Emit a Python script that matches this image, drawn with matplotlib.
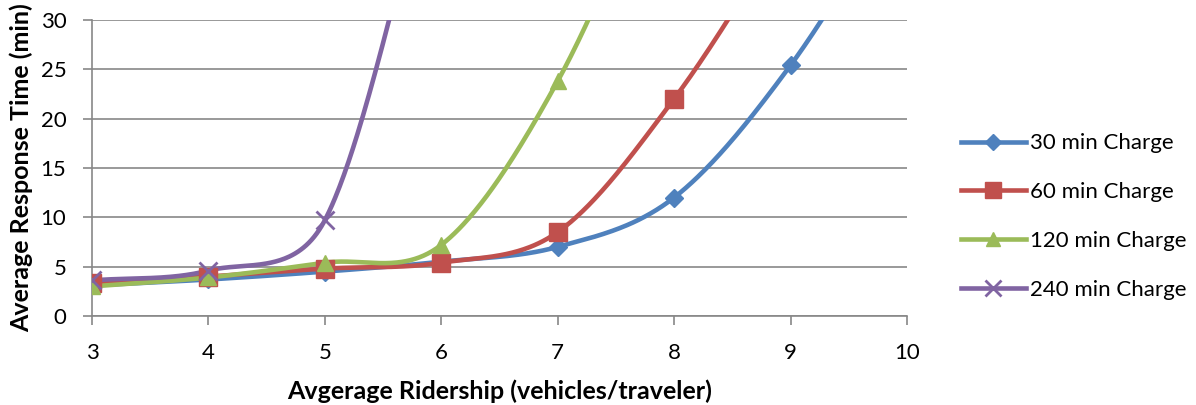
import numpy as np
import matplotlib
matplotlib.use("Agg")
import matplotlib.pyplot as plt
from matplotlib.lines import Line2D

plt.rcParams['font.family'] = ['Lato', 'DejaVu Sans']

# ridership (vehicles/traveler) and response time (min) per charge duration;
# the last value of each series lies above the plotted range
ridership = [3, 4, 5, 6, 7, 8, 9, 10]
resp_30 = [3.1, 3.7, 4.5, 5.5, 7.0, 12.0, 25.4, 44.0]
resp_60 = [3.3, 4.0, 4.8, 5.4, 8.5, 22.0, 40.0]
resp_120 = [3.0, 3.9, 5.4, 7.2, 23.8, 50.0]
resp_240 = [3.6, 4.6, 9.7, 50.0]

labels = ['30 min Charge', '60 min Charge', '120 min Charge', '240 min Charge']
colors = ['#4F81BD', '#C0504D', '#9BBB59', '#8064A2']
markers = ['D', 's', '^', 'x']
msizes = [9, 13, 12, 13]


def smooth(ax, xs, ys, n=80):
    # spreadsheet-style smoothed line: cubic Bezier segments built in display space,
    # control arms of 1/6 of the neighbour chord, capped at half the segment length
    tr = ax.transData
    p = tr.transform(np.column_stack([xs, ys]).astype(float))
    t = np.linspace(0, 1, n)[1:, None]
    out = [p[:1]]
    m = len(p)

    def arm(i, seg_len):
        if i == 0:
            return (p[1] - p[0]) / 3
        if i == m - 1:
            return (p[-1] - p[-2]) / 3
        d = p[i + 1] - p[i - 1]
        L = np.hypot(*d)
        k = min(L / 6, seg_len / 2)
        return d / L * k if L > 0 else d * 0

    for i in range(m - 1):
        p1, p2 = p[i], p[i + 1]
        seg = np.hypot(*(p2 - p1))
        c1 = p1 + arm(i, seg)
        c2 = p2 - arm(i + 1, seg)
        b = ((1 - t) ** 3) * p1 + 3 * ((1 - t) ** 2) * t * c1 + 3 * (1 - t) * t ** 2 * c2 + t ** 3 * p2
        out.append(b)
    c = tr.inverted().transform(np.vstack(out))
    return c[:, 0], c[:, 1]


fig = plt.figure(figsize=(11.96, 4.05), dpi=100)
ax = fig.add_axes([0.0769, 0.2198, 0.6814, 0.7309])
ax.set_xlim(3, 10)
ax.set_ylim(0, 30)

series = [resp_30, resp_60, resp_120, resp_240]
handles = []
for ys, lab, col, mk, ms in zip(series, labels, colors, markers, msizes):
    xs = ridership[:len(ys)]
    sx, sy = smooth(ax, xs, ys)
    ax.plot(sx, sy, color=col, lw=3.3, solid_capstyle='round', zorder=3)
    vis = [(x, y) for x, y in zip(xs, ys) if y <= 30]
    ax.plot([v[0] for v in vis], [v[1] for v in vis], ls='none', marker=mk, ms=ms,
            color=col, mec=col, mew=2 if mk == 'x' else 1, zorder=4)
    handles.append(Line2D([], [], color=col, lw=3.3, marker=mk, ms=ms * 0.85,
                          mec=col, mew=2 if mk == 'x' else 1))

ax.set_xticks(range(3, 11))
ax.set_yticks(range(0, 31, 5))
ax.yaxis.grid(True, color='#878787', lw=1.2)
ax.set_axisbelow(True)
for s in ['top', 'right']:
    ax.spines[s].set_visible(False)
for s in ['left', 'bottom']:
    ax.spines[s].set_color('#878787')
    ax.spines[s].set_linewidth(1.2)
ax.tick_params(axis='both', colors='#878787', length=6.5, width=1.2, labelsize=16,
               labelcolor='black')
ax.tick_params(axis='x', pad=13)
ax.tick_params(axis='y', pad=12)

ax.set_xlabel('Avgerage Ridership (vehicles/traveler)', fontsize=18, fontweight='bold', labelpad=12)
ax.set_ylabel('Average Response Time (min)', fontsize=18, fontweight='bold', labelpad=5)

fig.legend(handles, labels, loc='center left', bbox_to_anchor=(0.787, 0.465), frameon=False,
           fontsize=16, handlelength=2.9, handletextpad=0.2, labelspacing=1.3)

fig.savefig('out.png', dpi=100)
